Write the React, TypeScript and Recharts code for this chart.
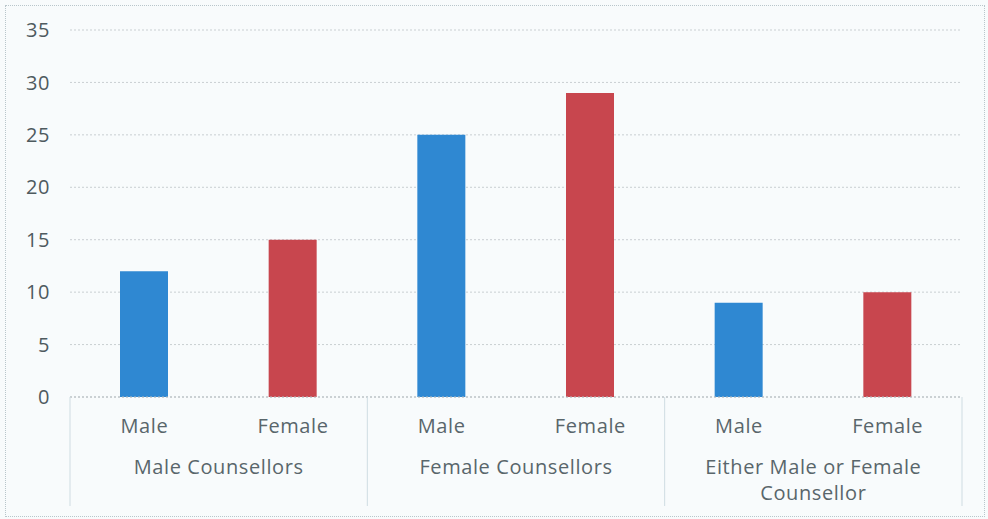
import { BarChart, Bar, Cell, XAxis, YAxis, CartesianGrid } from 'recharts';

// categories and values
const subLabels = ['Male', 'Female', 'Male', 'Female', 'Male', 'Female'];
const groupLabels = [['Male Counsellors'], ['Female Counsellors'], ['Either Male or Female', 'Counsellor']];
const counts = [12, 15, 25, 29, 9, 10];
const yTicks = [0, 5, 10, 15, 20, 25, 30, 35];

const BLUE = '#2f88d2';
const RED = '#c8464e';
const TEXT = '#59666b';
const FONT = '"Open Sans", sans-serif';

const data = subLabels.map((label, i) => ({
  label,
  group: Math.floor(i / 2),
  value: counts[i],
  fill: i % 2 === 0 ? BLUE : RED,
}));

function TwoLevelTick(props: any) {
  const { x, y, payload } = props;
  const idx: number = payload.index;
  const half: number = payload.offset || 74;
  const lines = groupLabels[Math.floor(idx / 2)];
  return (
    <g>
      <text x={x} y={y + 36} textAnchor="middle" fill={TEXT} fontSize={20} letterSpacing={0.6} fontFamily={FONT}>
        {payload.value}
      </text>
      {idx % 2 === 0 && (
        <>
          <line x1={x - half} x2={x - half} y1={y} y2={y + 109} stroke="#cfdce2" strokeWidth={1} />
          <text x={x + half} y={y + 77} textAnchor="middle" fill={TEXT} fontSize={20} letterSpacing={0.6} fontFamily={FONT}>
            {lines.map((ln, k) => (
              <tspan key={k} x={x + half} dy={k === 0 ? 0 : 26}>
                {ln}
              </tspan>
            ))}
          </text>
        </>
      )}
      {idx === subLabels.length - 1 && (
        <line x1={x + half} x2={x + half} y1={y} y2={y + 109} stroke="#cfdce2" strokeWidth={1} />
      )}
    </g>
  );
}

export default function App() {
  return (
    <div
      style={{
        position: 'absolute',
        left: 0,
        top: 0,
        width: 988,
        height: 519,
        background: '#f8fbfc',
      }}
    >
      <div
        style={{
          position: 'absolute',
          left: 5,
          top: 5,
          right: 3,
          bottom: 2,
          border: '1px dotted #b9c6cb',
        }}
      />
      <BarChart
        width={988}
        height={519}
        data={data}
        margin={{ top: 30, right: 26, bottom: 12, left: 0 }}
        style={{ position: 'absolute', left: 0, top: 0 }}
      >
        <CartesianGrid vertical={false} stroke="#c9cfd2" strokeDasharray="2 2" />
        <YAxis
          width={70}
          domain={[0, 35]}
          ticks={yTicks}
          interval={0}
          axisLine={false}
          tickLine={false}
          tickSize={0}
          tickMargin={20}
          tick={{ fill: '#4e5a5f', fontSize: 20, letterSpacing: 0.6, fontFamily: FONT }}
        />
        <XAxis
          dataKey="label"
          interval={0}
          height={110}
          tickLine={false}
          tickSize={0}
          tickMargin={0}
          axisLine={{ stroke: '#b5bcc0', strokeDasharray: '2 2' }}
          tick={<TwoLevelTick />}
        />
        <Bar dataKey="value" barSize={48} isAnimationActive={false}>
          {data.map((d, i) => (
            <Cell key={`cell-${i}`} fill={d.fill} />
          ))}
        </Bar>
      </BarChart>
    </div>
  );
}
